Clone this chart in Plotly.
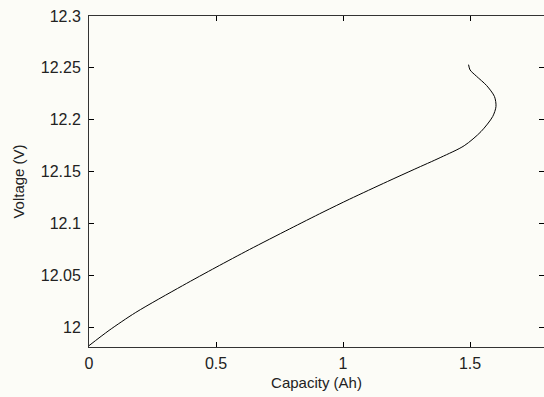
import plotly.graph_objects as go

capacity_ah = [0, 0.079, 0.184, 0.368, 0.5, 0.632, 0.789, 0.921, 1.026, 1.175, 1.28, 1.385, 1.477,
               1.543, 1.589, 1.602, 1.596, 1.565, 1.525, 1.500, 1.494]
voltage_v = [11.9823, 11.9970, 12.0143, 12.0401, 12.0578, 12.0750, 12.0947, 12.1110, 12.1235, 12.1405,
             12.1522, 12.1638, 12.1750, 12.1886, 12.2031, 12.2128, 12.2224, 12.2330, 12.2420, 12.2480, 12.2531]

x_ticks = [0, 0.5, 1, 1.5]
x_tick_labels = ["0", "0.5", "1", "1.5"]
y_ticks = [12, 12.05, 12.1, 12.15, 12.2, 12.25, 12.3]
y_tick_labels = ["12", "12.05", "12.1", "12.15", "12.2", "12.25", "12.3"]

bg = "#fcfcf7"
font = dict(family="Liberation Sans, Arial, sans-serif", size=16, color="#222222")

fig = go.Figure()
fig.add_trace(go.Scatter(x=capacity_ah, y=voltage_v, mode="lines",
                         line=dict(color="black", width=1, shape="spline", smoothing=0.8),
                         showlegend=False, hoverinfo="skip"))

fig.update_layout(
    width=544, height=397,
    margin=dict(l=89, r=0, t=16, b=50),
    paper_bgcolor=bg, plot_bgcolor=bg,
    font=font,
    xaxis=dict(range=[0, 1.791], tickvals=x_ticks, ticktext=x_tick_labels,
               ticks="inside", ticklen=5, tickcolor="black", ticklabelstandoff=2,
               showline=True, linecolor="#333333", linewidth=1, mirror="ticks",
               showgrid=False, zeroline=False,
               title=dict(text="Capacity (Ah)", font=dict(size=15), standoff=6)),
    yaxis=dict(range=[11.981, 12.3], tickvals=y_ticks, ticktext=y_tick_labels,
               ticks="inside", ticklen=5, tickcolor="black", ticklabelstandoff=4,
               showline=True, linecolor="#333333", linewidth=1, mirror="ticks",
               showgrid=False, zeroline=False,
               title=dict(text="Voltage (V)", font=dict(size=15), standoff=12)),
)

fig.write_html("out.html")
